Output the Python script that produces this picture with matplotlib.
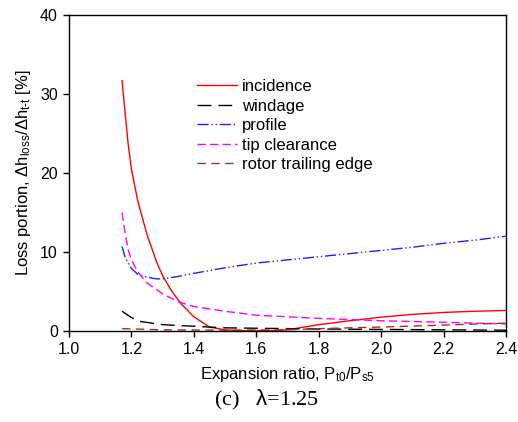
import matplotlib
matplotlib.use("Agg")
import matplotlib.pyplot as plt

## data
x_inc = [1.17, 1.18, 1.19, 1.20, 1.22, 1.25, 1.28, 1.30, 1.33, 1.36, 1.40, 1.45, 1.50,
         1.55, 1.60, 1.65, 1.70, 1.80, 1.90, 2.00, 2.10, 2.20, 2.30, 2.40]
incidence = [31.7, 27.5, 23.5, 20.5, 16.5, 12.2, 8.8, 7.0, 5.0, 3.4, 1.8, 0.5, 0.15,
             0.05, 0.05, 0.05, 0.15, 0.8, 1.3, 1.75, 2.1, 2.35, 2.5, 2.6]

x_wind = [1.17, 1.20, 1.23, 1.30, 1.40, 1.50, 1.60, 1.80, 2.00, 2.40]
windage = [2.5, 1.7, 1.2, 0.8, 0.6, 0.4, 0.35, 0.25, 0.2, 0.1]

x_prof = [1.17, 1.18, 1.20, 1.22, 1.25, 1.28, 1.30, 1.35, 1.40, 1.50, 1.60, 1.70,
          1.80, 1.90, 2.00, 2.10, 2.20, 2.30, 2.40]
profile = [10.7, 9.3, 7.9, 7.2, 6.8, 6.6, 6.6, 6.9, 7.3, 8.0, 8.6, 9.0,
           9.4, 9.8, 10.2, 10.6, 11.1, 11.5, 12.0]

x_tip = [1.17, 1.18, 1.19, 1.20, 1.22, 1.25, 1.30, 1.35, 1.40, 1.50, 1.60, 1.70,
         1.80, 2.00, 2.20, 2.40]
tip = [15.0, 12.3, 10.2, 9.0, 7.5, 6.1, 4.7, 3.7, 3.1, 2.5, 2.0, 1.8,
       1.6, 1.3, 1.1, 0.9]

x_rte = [1.17, 1.30, 1.50, 1.70, 1.80, 2.00, 2.20, 2.40]
rte = [0.3, 0.15, 0.1, 0.15, 0.3, 0.5, 0.75, 1.0]

x_ticks = [1.0, 1.2, 1.4, 1.6, 1.8, 2.0, 2.2, 2.4]
y_ticks = [0, 10, 20, 30, 40]

plt.rcParams['font.family'] = ['Liberation Sans', 'DejaVu Sans']
plt.rcParams['mathtext.fontset'] = 'custom'
plt.rcParams['mathtext.rm'] = 'Liberation Sans'
plt.rcParams['mathtext.it'] = 'Liberation Sans'

fig = plt.figure(figsize=(5.18, 4.22), dpi=100)
ax = fig.add_axes([69 / 518, 1 - 331 / 422, 437 / 518, 316 / 422])

ax.plot(x_inc, incidence, color='red', lw=1.0, label='incidence')
ax.plot(x_wind, windage, color='black', lw=1.0, dashes=(10, 5), label='windage')
ax.plot(x_prof, profile, color='#2020ff', lw=1.0, dashes=(8, 2, 1, 2, 1, 2),
        label='profile')
ax.plot(x_tip, tip, color='magenta', lw=1.0, dashes=(6, 3), label='tip clearance')
ax.plot(x_rte, rte, color='#a03030', lw=1.0, dashes=(6, 4), label='rotor trailing edge')

ax.set_xlim(1.0, 2.4)
ax.set_ylim(0, 40)
ax.set_xticks(x_ticks)
ax.set_xticklabels([f"{v:.1f}" for v in x_ticks])
ax.set_yticks(y_ticks)
ax.tick_params(direction='out', length=4, width=1, labelsize=11.5, pad=4)
for s in ax.spines.values():
    s.set_linewidth(1.0)

ax.set_xlabel(r'Expansion ratio, P$_{\mathrm{t0}}$/P$_{\mathrm{s5}}$', fontsize=12,
              labelpad=6)
ax.set_ylabel(r'Loss portion, $\Delta$h$_{\mathrm{loss}}$/$\Delta$h$_{\mathrm{t\text{-}t}}$ [%]',
              fontsize=12, labelpad=5)

ax.legend(loc='upper left', bbox_to_anchor=(0.277, 0.818), frameon=False,
          fontsize=12, handlelength=2.4, handletextpad=0.3, labelspacing=0.27,
          borderaxespad=0)

fig.text(0.515, 0.052, r'(c)   $\lambda$=1.25', family='Liberation Serif',
         fontsize=16, ha='center', va='center')

fig.savefig('out.png', dpi=100)
